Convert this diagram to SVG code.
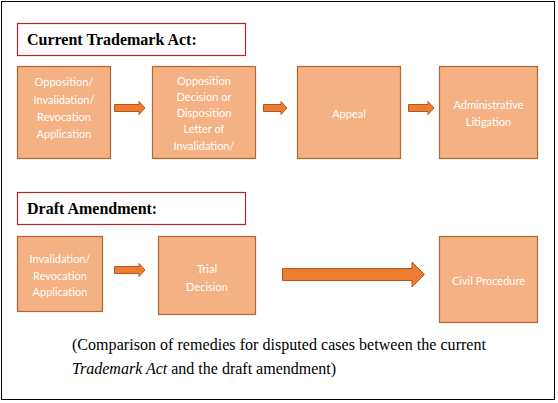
<svg xmlns="http://www.w3.org/2000/svg" width="558" height="403" viewBox="0 0 558 403">
<style>
.frame{fill:#fff;stroke:#000;stroke-width:1}
.tbox{fill:#fff;stroke:#B4262A;stroke-width:1.2}
.ttl{font-family:"Liberation Serif","Times New Roman",serif;font-weight:bold;font-size:16px;fill:#000}
.box{fill:#F4B183;stroke:#B5652E;stroke-width:1.2}
.bt{font-family:Lato,"Open Sans",sans-serif;font-size:11px;fill:#FFFFFF;text-anchor:middle}
.arr{fill:#ED7D31;stroke:#B7561C;stroke-width:1}
.cap{font-family:"Liberation Serif","Times New Roman",serif;font-size:16px;fill:#000}
</style>
<rect class="frame" x="1.5" y="1.5" width="553" height="398"/>
<g id="title1">
<rect class="tbox" x="17.5" y="23.5" width="228" height="32"/>
<text class="ttl" x="27" y="45">Current Trademark Act:</text>
</g>
<g id="n1">
<rect class="box" x="17.5" y="66.5" width="93" height="92"/>
<text class="bt"><tspan x="64" y="86">Opposition/</tspan><tspan x="64" y="103.5">Invalidation/</tspan><tspan x="64" y="121">Revocation</tspan><tspan x="64" y="138">Application</tspan></text>
</g>
<g id="n2">
<rect class="box" x="152.5" y="66.5" width="103" height="92"/>
<text class="bt"><tspan x="204" y="85">Opposition</tspan><tspan x="204" y="101">Decision or</tspan><tspan x="204" y="117">Disposition</tspan><tspan x="204" y="133">Letter of</tspan><tspan x="204" y="150">Invalidation/</tspan></text>
</g>
<g id="n3">
<rect class="box" x="297.5" y="66.5" width="103" height="92"/>
<text class="bt" x="349" y="118">Appeal</text>
</g>
<g id="n4">
<rect class="box" x="439.5" y="66.5" width="98" height="92"/>
<text class="bt"><tspan x="488.5" y="109">Administrative</tspan><tspan x="488.5" y="126">Litigation</tspan></text>
</g>
<g id="title2">
<rect class="tbox" x="17.5" y="192.5" width="228" height="32"/>
<text class="ttl" x="27" y="214">Draft Amendment:</text>
</g>
<g id="n5">
<rect class="box" x="17.5" y="236.5" width="85" height="75"/>
<text class="bt"><tspan x="60" y="263">Invalidation/</tspan><tspan x="60" y="280">Revocation</tspan><tspan x="60" y="296">Application</tspan></text>
</g>
<g id="n6">
<rect class="box" x="158.5" y="236.5" width="97" height="78"/>
<text class="bt"><tspan x="207" y="273">Trial</tspan><tspan x="207" y="291">Decision</tspan></text>
</g>
<g id="n7">
<rect class="box" x="439.5" y="236.5" width="98" height="86"/>
<text class="bt" x="488.5" y="285">Civil Procedure</text>
</g>
<g id="connectors">
<path class="arr" d="M114.5,104.5 H139 V101.5 L145,108 L139,114.5 V111.5 H114.5 Z"/>
<path class="arr" d="M263.5,104.5 H281 V101.5 L287,108 L281,114.5 V111.5 H263.5 Z"/>
<path class="arr" d="M408.5,104.5 H428 V101.5 L434,108 L428,114.5 V111.5 H408.5 Z"/>
<path class="arr" d="M114.5,266.5 H139 V263.5 L145,270 L139,276.5 V273.5 H114.5 Z"/>
<path class="arr" d="M282.5,268.5 H412 V262 L424.5,274.5 L412,287 V280.5 H282.5 Z"/>
</g>
<g id="caption">
<text class="cap" x="72" y="350" textLength="414" lengthAdjust="spacing">(Comparison of remedies for disputed cases between the current</text>
<text class="cap" x="72" y="374"><tspan font-style="italic">Trademark Act</tspan> and the draft amendment)</text>
</g>
</svg>
